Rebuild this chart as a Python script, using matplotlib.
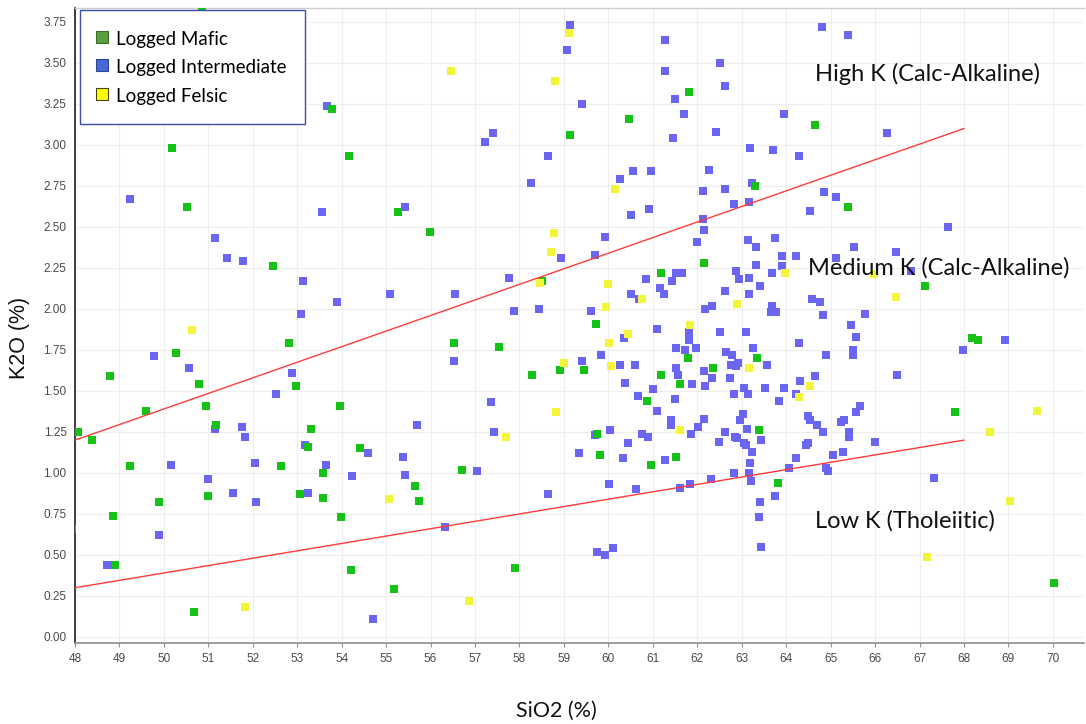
import matplotlib
matplotlib.use("Agg")
import matplotlib.pyplot as plt
from matplotlib.lines import Line2D

# ---- data: SiO2 (%) vs K2O (%) per lithology ----
mafic_sio2 = [50.86, 53.79, 50.18, 54.17, 50.53, 52.46, 52.82, 50.27, 48.79, 50.79,
              52.98, 49.60, 50.95, 53.97, 48.07, 48.38, 51.18, 53.32, 53.25, 54.42,
              49.24, 52.64, 53.59, 51.00, 53.07, 53.59, 49.89, 48.85, 53.99, 47.94,
              48.89, 54.20, 50.67,
              59.13, 55.26, 55.99, 58.50, 59.72, 56.53, 57.53, 58.91, 59.46, 58.29,
              59.74, 59.81, 56.71, 55.65, 55.75, 57.89, 55.17,
              61.81, 60.46, 64.64, 63.29, 65.39, 62.14, 61.18, 61.78, 63.35, 62.35,
              61.18, 61.60, 60.86, 63.38, 60.95, 61.51, 63.82,
              67.12, 68.17, 68.32, 67.80, 70.03]
mafic_k2o = [3.83, 3.22, 2.98, 2.93, 2.62, 2.26, 1.79, 1.73, 1.59, 1.54,
             1.53, 1.38, 1.41, 1.41, 1.25, 1.20, 1.29, 1.27, 1.16, 1.15,
             1.04, 1.04, 1.00, 0.86, 0.87, 0.85, 0.82, 0.74, 0.73, 0.66,
             0.44, 0.41, 0.15,
             3.06, 2.59, 2.47, 2.17, 1.91, 1.79, 1.77, 1.63, 1.63, 1.60,
             1.24, 1.11, 1.02, 0.92, 0.83, 0.42, 0.29,
             3.32, 3.16, 3.12, 2.75, 2.62, 2.28, 2.22, 1.70, 1.70, 1.64,
             1.60, 1.54, 1.44, 1.26, 1.05, 1.10, 0.94,
             2.14, 1.82, 1.81, 1.37, 0.33]

inter_sio2 = [53.68, 49.24, 53.56, 51.15, 51.42, 51.78, 53.13, 53.90, 53.09, 49.78,
              50.57, 52.89, 52.52, 51.15, 51.76, 51.83, 53.18, 50.16, 52.05, 53.65,
              51.00, 54.24, 51.56, 53.25, 52.08, 49.89, 48.73,
              59.13, 59.07, 59.41, 57.41, 57.23, 58.64, 58.25, 55.43, 59.92, 58.93,
              59.70, 57.77, 55.08, 56.54, 57.87, 58.43, 59.61, 59.84, 56.53, 59.41,
              57.35, 55.70, 57.43, 59.70, 54.59, 55.38, 59.33, 57.05, 55.43, 58.65,
              56.32, 59.75, 59.93, 54.70,
              61.27, 64.81, 65.40, 61.27, 62.52, 62.62, 61.50, 61.70, 63.96, 61.46,
              62.41, 63.18, 63.70, 64.29, 60.55, 60.95, 62.27, 60.27, 62.13, 62.62,
              63.22, 64.85, 65.12, 62.83, 63.16, 64.53, 60.50, 60.91, 62.13, 62.15,
              62.00, 63.14, 63.32, 63.75, 65.52,
              63.90, 64.22, 65.13, 63.32, 63.90, 61.51, 61.66, 62.86, 63.68, 60.84,
              61.42, 62.94, 63.16, 63.41, 61.17, 61.24, 62.63, 63.17, 64.59, 64.76,
              60.50, 60.69, 62.17, 62.32, 63.68, 63.78, 63.66, 64.83, 61.81, 61.09,
              62.50, 63.09, 60.34, 61.81, 64.28, 61.51, 61.72, 61.97, 63.25, 62.64,
              62.79, 65.51, 65.51, 64.90, 60.27, 60.59, 62.75, 62.92, 62.88, 63.56,
              61.51, 62.16, 61.56, 62.32, 62.74, 64.64, 60.38, 61.87, 62.17, 64.31,
              61.00, 63.05, 63.53, 63.94, 60.66, 62.82, 63.14, 64.23, 61.50, 63.83,
              61.09, 63.02, 62.96, 64.50, 62.16, 61.41, 61.41, 64.53, 64.70, 65.23,
              65.30, 60.03, 60.75, 60.90, 61.86, 62.01, 62.62, 62.85, 63.12, 64.82,
              65.42, 65.45, 65.57,
              60.44, 62.49, 62.90, 63.04, 63.10, 63.43, 63.23, 64.49, 64.44, 65.42,
              60.33, 61.27, 63.19, 64.23, 65.06, 65.27, 63.16, 62.83, 63.21, 64.07,
              64.89, 64.95, 60.01, 60.61, 61.62, 61.84, 62.31, 63.74, 63.41, 63.38,
              63.43, 60.11,
              66.27, 67.65, 66.48, 66.81, 65.77, 66.49, 67.97, 68.93, 65.66, 65.56,
              65.99, 67.32]
inter_k2o = [3.24, 2.67, 2.59, 2.43, 2.31, 2.29, 2.17, 2.04, 1.97, 1.71,
             1.64, 1.61, 1.48, 1.27, 1.28, 1.22, 1.17, 1.05, 1.06, 1.05,
             0.96, 0.98, 0.88, 0.88, 0.82, 0.62, 0.44,
             3.73, 3.58, 3.25, 3.07, 3.02, 2.93, 2.77, 2.62, 2.44, 2.31,
             2.33, 2.19, 2.09, 2.09, 1.99, 2.00, 1.99, 1.72, 1.68, 1.68,
             1.43, 1.29, 1.25, 1.23, 1.12, 1.10, 1.12, 1.01, 0.99, 0.87,
             0.67, 0.52, 0.50, 0.11,
             3.64, 3.72, 3.67, 3.45, 3.50, 3.36, 3.28, 3.19, 3.19, 3.04,
             3.08, 2.98, 2.97, 2.93, 2.84, 2.84, 2.85, 2.79, 2.72, 2.73,
             2.77, 2.71, 2.68, 2.64, 2.65, 2.60, 2.57, 2.61, 2.55, 2.48,
             2.41, 2.42, 2.38, 2.43, 2.38,
             2.32, 2.32, 2.31, 2.27, 2.26, 2.22, 2.22, 2.23, 2.22, 2.18,
             2.17, 2.18, 2.19, 2.14, 2.13, 2.09, 2.11, 2.09, 2.06, 2.04,
             2.09, 2.06, 2.00, 2.02, 2.02, 1.98, 1.98, 1.96, 1.86, 1.88,
             1.86, 1.86, 1.82, 1.81, 1.79, 1.76, 1.75, 1.76, 1.76, 1.74,
             1.72, 1.75, 1.72, 1.72, 1.66, 1.66, 1.66, 1.67, 1.65, 1.66,
             1.64, 1.62, 1.60, 1.58, 1.58, 1.59, 1.55, 1.54, 1.53, 1.56,
             1.51, 1.52, 1.52, 1.52, 1.47, 1.48, 1.48, 1.48, 1.45, 1.44,
             1.38, 1.36, 1.32, 1.35, 1.33, 1.32, 1.29, 1.32, 1.29, 1.31,
             1.32, 1.26, 1.24, 1.22, 1.24, 1.28, 1.25, 1.22, 1.27, 1.25,
             1.25, 1.90, 1.83,
             1.18, 1.19, 1.21, 1.18, 1.17, 1.20, 1.13, 1.18, 1.17, 1.22,
             1.09, 1.08, 1.06, 1.09, 1.11, 1.13, 1.00, 1.00, 0.95, 1.03,
             1.03, 1.01, 0.93, 0.90, 0.91, 0.93, 0.96, 0.86, 0.82, 0.73,
             0.55, 0.54,
             3.07, 2.50, 2.35, 2.23, 1.97, 1.60, 1.75, 1.81, 1.41, 1.37,
             1.19, 0.97]

felsic_sio2 = [50.63, 51.83, 59.11, 56.47, 58.80, 60.15, 58.78, 58.70, 58.47, 60.00,
               59.94, 60.01, 59.00, 60.05, 58.82, 57.70, 55.06, 56.87, 63.97, 60.75,
               62.89, 61.83, 60.43, 63.16, 64.53, 64.28, 61.62, 65.98, 66.47, 69.65,
               68.59, 69.03, 67.16]
felsic_k2o = [1.87, 0.18, 3.68, 3.45, 3.39, 2.73, 2.46, 2.35, 2.16, 2.15,
              2.01, 1.79, 1.67, 1.65, 1.37, 1.22, 0.84, 0.22, 2.22, 2.06,
              2.03, 1.90, 1.85, 1.64, 1.53, 1.46, 1.26, 2.21, 2.07, 1.38,
              1.25, 0.83, 0.49]

# series boundaries (straight lines between end points)
boundary_sio2 = [48, 68]
high_medium_k2o = [1.2, 3.1]
medium_low_k2o = [0.3, 1.2]

xticks = list(range(48, 71))
yticks = [0.00, 0.25, 0.50, 0.75, 1.00, 1.25, 1.50, 1.75, 2.00, 2.25, 2.50,
          2.75, 3.00, 3.25, 3.50, 3.75]

series_labels = ["Logged Mafic", "Logged Intermediate", "Logged Felsic"]
region_labels = ["High K (Calc-Alkaline)", "Medium K (Calc-Alkaline)", "Low K (Tholeiitic)"]

# ---- figure ----
W, H = 1086, 724
fig = plt.figure(figsize=(W / 100, H / 100), dpi=100)
ax = fig.add_axes([75 / W, 1 - 643 / H, (1084 - 75) / W, (643 - 8) / H])

ax.set_xlim(48, 70.7)
ax.set_ylim(-0.037, 3.835)

ax.set_xticks(xticks)
ax.set_yticks(yticks)
ax.set_yticklabels([f"{v:.2f}" for v in yticks])
ax.grid(True, color="#efefef", linewidth=0.8, zorder=0)
ax.set_axisbelow(True)

for lab in ax.get_xticklabels() + ax.get_yticklabels():
    lab.set_fontfamily("Liberation Sans")
    lab.set_fontsize(8.5)
    lab.set_color("#4a4a4a")
ax.tick_params(axis="x", length=3, width=0.8, color="#909090", pad=4)
ax.tick_params(axis="y", length=0, pad=6)

ax.spines["left"].set_color("#202020")
ax.spines["left"].set_linewidth(1.2)
ax.spines["bottom"].set_color("#8c8c8c")
ax.spines["bottom"].set_linewidth(1.2)
ax.spines["top"].set_color("#cfcfcf")
ax.spines["top"].set_linewidth(1.0)
ax.spines["right"].set_visible(False)

blue = "#6a66f2"
green = "#16c216"
yellow = "#f4f43c"
msize = 38

ax.scatter(inter_sio2, inter_k2o, s=msize, marker="s", c=blue, linewidths=0, zorder=3)
ax.scatter(mafic_sio2, mafic_k2o, s=msize, marker="s", c=green, linewidths=0, zorder=4)
ax.scatter(felsic_sio2, felsic_k2o, s=msize, marker="s", c=yellow, linewidths=0, zorder=5)

ax.plot(boundary_sio2, high_medium_k2o, color="#ff3b3b", linewidth=1.0, zorder=6)
ax.plot(boundary_sio2, medium_low_k2o, color="#ff3b3b", linewidth=1.0, zorder=6)

label_font = dict(fontfamily="Lato", fontsize=17, color="#111111", va="center", ha="left", zorder=7)
ax.text(64.65, 3.43, region_labels[0], **label_font)
ax.text(64.49, 2.25, region_labels[1], **label_font)
ax.text(64.65, 0.71, region_labels[2], **label_font)

ax.set_xlabel("SiO2 (%)", fontfamily="Lato", fontsize=15.5, color="#111111")
ax.set_ylabel("K2O (%)", fontfamily="Liberation Sans", fontsize=15.5, color="#111111")
ax.xaxis.set_label_coords(0.477, -0.091)
ax.yaxis.set_label_coords(-0.045, 0.48)

handles = [
    Line2D([], [], linestyle="none", marker="s", markersize=8.5,
           markerfacecolor="#5aa03c", markeredgecolor="#3e6e2a", markeredgewidth=0.8),
    Line2D([], [], linestyle="none", marker="s", markersize=8.5,
           markerfacecolor="#4a68d4", markeredgecolor="#2f4596", markeredgewidth=0.8),
    Line2D([], [], linestyle="none", marker="s", markersize=8.5,
           markerfacecolor="#ffff00", markeredgecolor="#444400", markeredgewidth=0.8),
]
leg = ax.legend(handles, series_labels, loc="upper left",
                bbox_to_anchor=(0.005, 0.997), borderaxespad=0,
                frameon=True, fancybox=False, framealpha=1, edgecolor="#3a4ea6",
                borderpad=1.0, labelspacing=0.5, handleheight=1.2,
                handletextpad=0.62, handlelength=0.3,
                prop={"family": "Lato", "size": 13.5})
leg.get_frame().set_linewidth(1.0)
leg.set_zorder(10)

fig.savefig("out.png", dpi=100)
